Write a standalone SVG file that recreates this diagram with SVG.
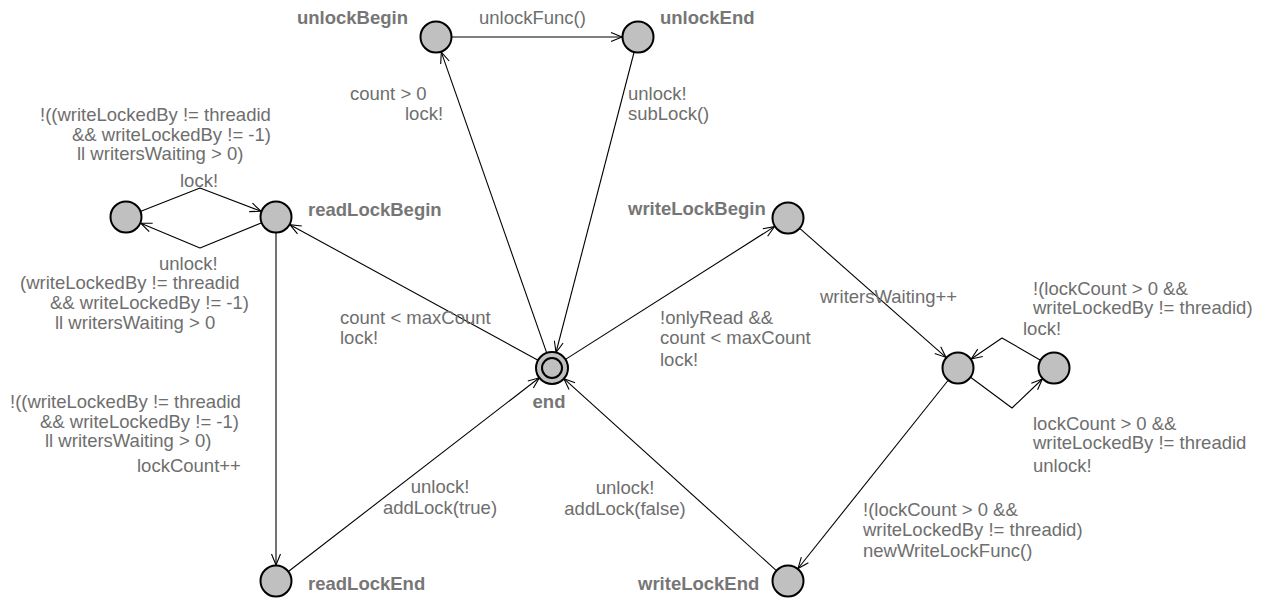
<svg xmlns="http://www.w3.org/2000/svg" width="1272" height="598" viewBox="0 0 1272 598">
<style>
  .loc { fill: #c0c0c0; stroke: #000; stroke-width: 2; }
  .name { font-family: "Liberation Sans", Arial, Helvetica, sans-serif; font-size: 18.5px; font-weight: bold; fill: #767676; }
  .lbl { font-family: "Liberation Sans", Arial, Helvetica, sans-serif; font-size: 18.5px; fill: #6e6e6e; }
  .mid { text-anchor: middle; }
  .edge { fill: none; stroke: #000; stroke-width: 1.1; stroke-linejoin: round; marker-end: url(#arr); }
</style>
<defs>
  <marker id="arr" markerUnits="userSpaceOnUse" markerWidth="14" markerHeight="12" viewBox="-12 -6 14 12" refX="0" refY="0" orient="auto">
    <path d="M-11,-4.5 L0,0 L-11,4.5" fill="none" stroke="#000" stroke-width="1.1"/>
  </marker>
</defs>
<rect width="1272" height="598" fill="#fff"/>

<g id="connectors">
  <g id="e-unlockBegin-unlockEnd">
    <path class="edge" d="M452,37 L622,37"/>
    <text class="lbl" x="479" y="24">unlockFunc()</text>
  </g>
  <g id="e-end-unlockBegin">
    <path class="edge" d="M546.7,352.9 L441.3,52.1"/>
    <text class="lbl" x="350" y="100">count &gt; 0</text>
    <text class="lbl" x="405" y="120">lock!</text>
  </g>
  <g id="e-unlockEnd-end">
    <path class="edge" d="M634,52.5 L556,352.5"/>
    <text class="lbl" x="628" y="100">unlock!</text>
    <text class="lbl" x="628" y="120">subLock()</text>
  </g>
  <g id="e-end-readLockBegin">
    <path class="edge" d="M538,360.3 L290,224.7"/>
    <text class="lbl" x="340" y="324">count &lt; maxCount</text>
    <text class="lbl" x="340" y="344">lock!</text>
  </g>
  <g id="e-readLockBegin-readLockEnd">
    <path class="edge" d="M276,233 L276,565"/>
    <text class="lbl" x="10" y="408">!((writeLockedBy != threadid</text>
    <text class="lbl" x="40" y="428">&amp;&amp; writeLockedBy != -1)</text>
    <text class="lbl" x="45" y="447">ll writersWaiting &gt; 0)</text>
    <text class="lbl" x="137" y="472">lockCount++</text>
  </g>
  <g id="e-readLockEnd-end">
    <path class="edge" d="M288.7,571.2 L539.3,377.8"/>
    <text class="lbl mid" x="440" y="493">unlock!</text>
    <text class="lbl mid" x="440" y="514">addLock(true)</text>
  </g>
  <g id="e-end-writeLockBegin">
    <path class="edge" d="M565.5,359.4 L774.5,226.6"/>
    <text class="lbl" x="660" y="324">!onlyRead &amp;&amp;</text>
    <text class="lbl" x="660" y="344">count &lt; maxCount</text>
    <text class="lbl" x="660" y="366">lock!</text>
  </g>
  <g id="e-writeLockBegin-writeWait">
    <path class="edge" d="M800,228.6 L946,357.4"/>
    <text class="lbl" x="820" y="303">writersWaiting++</text>
  </g>
  <g id="e-writeWait-writeLockEnd">
    <path class="edge" d="M948,380.5 L798,568.5"/>
    <text class="lbl" x="863" y="516">!(lockCount &gt; 0 &amp;&amp;</text>
    <text class="lbl" x="863" y="536">writeLockedBy != threadid)</text>
    <text class="lbl" x="863" y="557">newWriteLockFunc()</text>
  </g>
  <g id="e-writeLockEnd-end">
    <path class="edge" d="M776.1,570.3 L563.9,378.7"/>
    <text class="lbl mid" x="625" y="494">unlock!</text>
    <text class="lbl mid" x="625" y="515">addLock(false)</text>
  </g>
  <g id="e-readWait-readLockBegin">
    <path class="edge" d="M140.9,211.2 L200,188 L261.1,211.3"/>
    <text class="lbl" x="40" y="121">!((writeLockedBy != threadid</text>
    <text class="lbl" x="72" y="141">&amp;&amp; writeLockedBy != -1)</text>
    <text class="lbl" x="77" y="160">ll writersWaiting &gt; 0)</text>
    <text class="lbl" x="180" y="187">lock!</text>
  </g>
  <g id="e-readLockBegin-readWait">
    <path class="edge" d="M261.2,223 L200,248 L140.8,223.2"/>
    <text class="lbl" x="159" y="270">unlock!</text>
    <text class="lbl" x="20" y="289">(writeLockedBy != threadid</text>
    <text class="lbl" x="50" y="309">&amp;&amp; writeLockedBy != -1)</text>
    <text class="lbl" x="55" y="329">ll writersWaiting &gt; 0</text>
  </g>
  <g id="e-writeLoop-writeWait">
    <path class="edge" d="M1040.1,360 L1002,338 L971.2,359"/>
    <text class="lbl" x="1033" y="295">!(lockCount &gt; 0 &amp;&amp;</text>
    <text class="lbl" x="1033" y="314">writeLockedBy != threadid)</text>
    <text class="lbl" x="1023" y="335">lock!</text>
  </g>
  <g id="e-writeWait-writeLoop">
    <path class="edge" d="M970.9,377.5 L1012,408 L1042.4,379"/>
    <text class="lbl" x="1033" y="430">lockCount &gt; 0 &amp;&amp;</text>
    <text class="lbl" x="1033" y="449">writeLockedBy != threadid</text>
    <text class="lbl" x="1033" y="472">unlock!</text>
  </g>
</g>

<g id="unlockBegin">
  <circle class="loc" cx="436" cy="37" r="15.5"/>
  <text class="name" x="297" y="24">unlockBegin</text>
</g>
<g id="unlockEnd">
  <circle class="loc" cx="638" cy="37" r="15.5"/>
  <text class="name" x="660" y="24">unlockEnd</text>
</g>
<g id="readWait">
  <circle class="loc" cx="126" cy="217" r="15.5"/>
</g>
<g id="readLockBegin">
  <circle class="loc" cx="276" cy="217" r="15.5"/>
  <text class="name" x="308" y="216">readLockBegin</text>
</g>
<g id="writeLockBegin">
  <circle class="loc" cx="788" cy="218" r="15.5"/>
  <text class="name" x="628" y="215">writeLockBegin</text>
</g>
<g id="end">
  <circle class="loc" cx="552" cy="368" r="16"/>
  <circle class="loc" cx="552" cy="368" r="10"/>
  <text class="name mid" x="549" y="408">end</text>
</g>
<g id="writeWait">
  <circle class="loc" cx="958" cy="368" r="15.5"/>
</g>
<g id="writeLoop">
  <circle class="loc" cx="1054" cy="368" r="15.5"/>
</g>
<g id="readLockEnd">
  <circle class="loc" cx="276" cy="581" r="15.5"/>
  <text class="name" x="308" y="590">readLockEnd</text>
</g>
<g id="writeLockEnd">
  <circle class="loc" cx="788" cy="581" r="15.5"/>
  <text class="name" x="638" y="590">writeLockEnd</text>
</g>
</svg>
